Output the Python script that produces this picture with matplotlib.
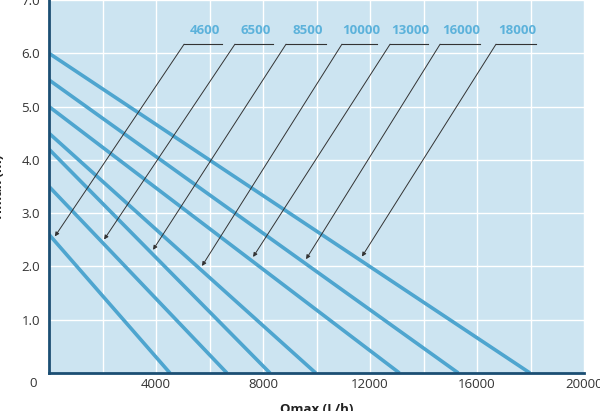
import numpy as np
import matplotlib
matplotlib.use("Agg")
import matplotlib.pyplot as plt

plt.rcParams['font.family'] = ['Open Sans', 'DejaVu Sans']

# ---- data ----
models = ["4600", "6500", "8500", "10000", "13000", "16000", "18000"]
hmax = [2.6, 3.5, 4.2, 4.5, 5.0, 5.5, 6.0]          # head at Q=0 (m)
qmax = [4520, 6650, 8260, 9970, 13100, 15300, 17980]  # flow at H=0 (L/h)
x_ticks = [4000, 8000, 12000, 16000, 20000]
y_ticks = [1.0, 2.0, 3.0, 4.0, 5.0, 6.0, 7.0]

# annotation layout (data coords)
tip_x = [220, 2060, 3890, 5720, 7630, 9610, 11700]
leader_x0 = [5050, 6950, 8860, 10950, 12750, 14620, 16710]
leader_x1 = [6470, 8370, 10360, 12260, 14170, 16110, 18210]
leader_y = 6.17

bg = '#cce4f1'
line_c = '#4ea5cf'
spine_c = '#1b4e73'
label_c = '#5cb2db'

fig = plt.figure(figsize=(6, 4.11), dpi=100)
ax = fig.add_axes([49/600, 38/411, 535/600, 373/411])
ax.set_facecolor(bg)
ax.set_xlim(0, 20000)
ax.set_ylim(0, 7)

ax.set_xticks(np.arange(0, 20001, 2000), minor=True)
ax.set_xticks(x_ticks)
ax.set_yticks(y_ticks)
ax.set_yticklabels([f"{v:.1f}" for v in y_ticks])
ax.grid(True, which='both', axis='x', color='white', lw=1.0)
ax.grid(True, which='major', axis='y', color='white', lw=1.0)
ax.set_axisbelow(True)
ax.tick_params(which='both', length=0, labelsize=9.5, colors='#333333')
ax.tick_params(axis='y', pad=6.5)
ax.tick_params(axis='x', pad=3.5)

for s in ['top', 'right']:
    ax.spines[s].set_visible(False)
for s in ['left', 'bottom']:
    ax.spines[s].set_color(spine_c)
    ax.spines[s].set_linewidth(2.0)
    ax.spines[s].set_zorder(5)

for h, q in zip(hmax, qmax):
    ax.plot([0, q], [h, 0], color=line_c, lw=2.6, solid_capstyle='butt', zorder=3)

for name, h, q, tx, x0, x1 in zip(models, hmax, qmax, tip_x, leader_x0, leader_x1):
    ty = h * (1 - tx / q) + 0.09
    ax.plot([x0, x1], [leader_y, leader_y], color='#333333', lw=0.8, zorder=4)
    ax.annotate('', xy=(tx, ty), xytext=(x0, leader_y),
                arrowprops=dict(arrowstyle='-|>', color='#333333', lw=0.7,
                                mutation_scale=6, shrinkA=0, shrinkB=0),
                zorder=4)
    ax.text((x0 + x1) / 2 + 60, leader_y + 0.26, name, color=label_c,
            fontsize=9.5, fontweight='bold', ha='center', va='center', zorder=4)

ax.annotate('0', xy=(0, 0), xytext=(-16, -10), textcoords='offset pixels',
            ha='center', va='center', fontsize=9.5, color='#333333',
            annotation_clip=False)

ax.set_xlabel('Qmax (L/h)', fontsize=9.5, fontweight='bold', color='#222222')
ax.xaxis.set_label_coords(0.5, -0.08)
ax.set_ylabel('Hmax (m)', fontsize=9.5, fontweight='bold', color='#222222')
ax.yaxis.set_label_coords(-0.082, 0.5)

fig.savefig('out.png', dpi=100)
